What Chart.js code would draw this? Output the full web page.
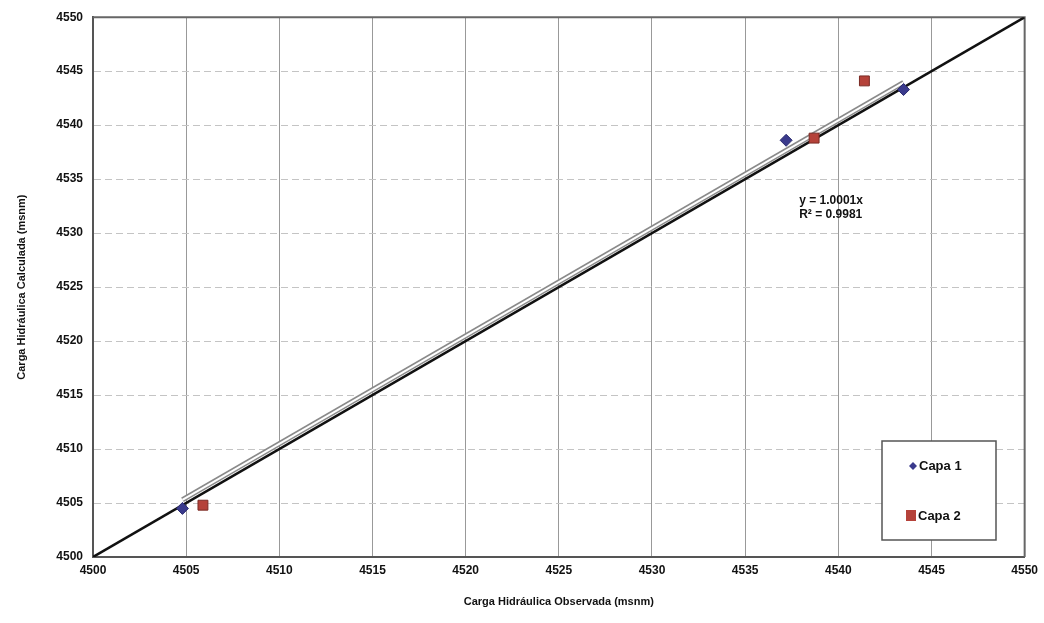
<!DOCTYPE html>
<html>
<head>
<meta charset="utf-8">
<script src="https://cdn.jsdelivr.net/npm/chart.js@4.4.1/dist/chart.umd.min.js"></script>
<style>
  html, body { margin: 0; padding: 0; background: #fff; }
  #wrap { width: 1044px; height: 623px; position: relative; }
</style>
</head>
<body>
<div id="wrap"><canvas id="chart"></canvas></div>
<script>
// valores
const capa1X = [4504.8, 4537.2, 4543.5];
const capa1Y = [4504.5, 4538.6, 4543.3];
const capa2X = [4505.9, 4538.7, 4541.4];
const capa2Y = [4504.8, 4538.8, 4544.1];
const lineaIgualX = [4500, 4550];
const lineaIgualY = [4500, 4550];
const tendX = [4504.8, 4543.5];
const tendY = [4505.3, 4543.95];
const ticks = [4500, 4505, 4510, 4515, 4520, 4525, 4530, 4535, 4540, 4545, 4550];
const ecuacion = ['y = 1.0001x', 'R² = 0.9981'];

const pts = (xs, ys) => xs.map((x, i) => ({ x: x, y: ys[i] }));

const FONT = '"Liberation Sans", Arial, sans-serif';

// marco superior y derecho del area de trazado
const marco = {
    id: 'marco',
    beforeDatasetsDraw(chart) {
        const { ctx, chartArea: a } = chart;
        ctx.save();
        ctx.strokeStyle = '#666';
        ctx.lineWidth = 2;
        ctx.beginPath();
        ctx.moveTo(a.left, a.top);
        ctx.lineTo(a.right, a.top);
        ctx.lineTo(a.right, a.bottom);
        ctx.stroke();
        ctx.restore();
    }
};

// leyenda dentro del area y texto de la ecuacion
const extras = {
    id: 'extras',
    afterDraw(chart) {
        const ctx = chart.ctx;
        const xs = chart.scales.x, ys = chart.scales.y;
        ctx.save();
        ctx.font = 'bold 12px ' + FONT;
        ctx.fillStyle = '#111';
        ctx.textBaseline = 'middle';
        ctx.fillText(ecuacion[0], xs.getPixelForValue(4537.9), ys.getPixelForValue(4533));
        ctx.fillText(ecuacion[1], xs.getPixelForValue(4537.9), ys.getPixelForValue(4531.7));

        // caja de leyenda
        const bx = 882, by = 441, bw = 114, bh = 99;
        ctx.fillStyle = '#fff';
        ctx.fillRect(bx, by, bw, bh);
        ctx.strokeStyle = '#555';
        ctx.lineWidth = 1.5;
        ctx.strokeRect(bx, by, bw, bh);

        ctx.font = 'bold 13px ' + FONT;
        ctx.fillStyle = '#111';
        ctx.fillText(chart.data.datasets[0].label, 919, 466);
        ctx.fillText(chart.data.datasets[1].label, 918, 516);

        ctx.fillStyle = '#3a3a8c';
        ctx.beginPath();
        ctx.moveTo(913, 462); ctx.lineTo(917, 466); ctx.lineTo(913, 470); ctx.lineTo(909, 466);
        ctx.closePath(); ctx.fill();

        ctx.fillStyle = '#b5423a';
        ctx.fillRect(906, 510, 10, 11);
        ctx.restore();
    }
};

new Chart(document.getElementById('chart'), {
    type: 'scatter',
    data: {
        datasets: [{
            label: 'Capa 1',
            data: pts(capa1X, capa1Y),
            pointStyle: 'rectRot',
            pointRadius: 6,
            backgroundColor: '#3a3a8c',
            borderColor: '#2c2c70',
            borderWidth: 1,
            order: 1
        }, {
            label: 'Capa 2',
            data: pts(capa2X, capa2Y),
            pointStyle: 'rect',
            pointRadius: 7,
            backgroundColor: '#b5423a',
            borderColor: '#7a2a24',
            borderWidth: 1,
            order: 1
        }, {
            label: 'tendencia borde',
            type: 'line',
            data: pts(tendX, tendY),
            borderColor: '#8a8a8a',
            borderWidth: 5,
            pointRadius: 0,
            order: 3
        }, {
            label: 'tendencia',
            type: 'line',
            data: pts(tendX, tendY),
            borderColor: '#ffffff',
            borderWidth: 2,
            pointRadius: 0,
            order: 2
        }, {
            label: '1:1',
            type: 'line',
            data: pts(lineaIgualX, lineaIgualY),
            borderColor: '#111111',
            borderWidth: 2.5,
            pointRadius: 0,
            order: 2
        }]
    },
    options: {
        responsive: true,
        maintainAspectRatio: false,
        animation: false,
        layout: { padding: { left: 11, right: 19, top: 14, bottom: 10 } },
        plugins: {
            legend: { display: false },
            tooltip: { enabled: false }
        },
        scales: {
            x: {
                type: 'linear',
                min: 4500, max: 4550,
                afterBuildTicks: s => { s.ticks = ticks.map(v => ({ value: v })); },
                afterFit: s => { s.height = 56; },
                ticks: {
                    color: '#111',
                    font: { family: FONT, size: 12, weight: 'bold' },
                    padding: 6,
                    maxRotation: 0,
                    callback: v => String(v)
                },
                grid: { color: '#999', lineWidth: 1, drawTicks: false },
                border: { color: '#555', width: 2 },
                title: {
                    display: true,
                    text: 'Carga Hidráulica Observada (msnm)',
                    color: '#111',
                    font: { family: FONT, size: 11, weight: 'bold' },
                    padding: { top: 14 }
                }
            },
            y: {
                type: 'linear',
                min: 4500, max: 4550,
                afterBuildTicks: s => { s.ticks = ticks.map(v => ({ value: v })); },
                afterFit: s => { s.width = 82; },
                ticks: {
                    color: '#111',
                    font: { family: FONT, size: 12, weight: 'bold' },
                    padding: 10,
                    callback: v => String(v)
                },
                grid: { color: '#c4c4c4', lineWidth: 1, drawTicks: false },
                border: { color: '#555', width: 2, dash: [7, 4] },
                title: {
                    display: true,
                    text: 'Carga Hidráulica Calculada (msnm)',
                    color: '#111',
                    font: { family: FONT, size: 11, weight: 'bold' },
                    padding: { bottom: 14 }
                }
            }
        }
    },
    plugins: [marco, extras]
});
</script>
</body>
</html>
